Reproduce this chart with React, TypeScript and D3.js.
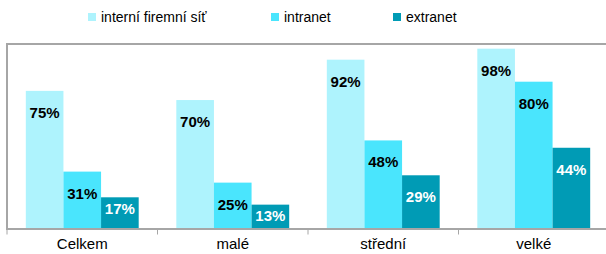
import React from 'react';
import * as d3 from 'd3';

const categories = ['Celkem', 'malé', 'střední', 'velké'];
const seriesNames = ['interní firemní síť', 'intranet', 'extranet'];
const interni = [75, 70, 92, 98];
const intranet = [31, 25, 48, 80];
const extranet = [17, 13, 29, 44];
const seriesColors = ['#aef3fd', '#4ae5fd', '#009bb5'];
const labelColors = ['#000', '#000', '#fff'];

const W = 606;
const H = 254;
const left = 7;
const right = 609;
const top = 44;
const bottom = 228.5;

export default function App() {
  const values = [interni, intranet, extranet];
  const x0 = d3.scaleBand().domain(categories).range([left, right]);
  const x1 = d3.scaleBand().domain(seriesNames).range([0, x0.bandwidth()]).paddingOuter(0.5);
  const y = d3.scaleLinear().domain([0, 100]).range([bottom, top + 1]);
  const font = 'Arial, "Liberation Sans", sans-serif';
  const legendX = [88, 271, 393];

  return (
    <svg width={W} height={H} style={{ position: 'absolute', left: 0, top: 0 }} fontFamily={font}>
      {/* legend */}
      {seriesNames.map((s, i) => (
        <g key={s}>
          <rect x={legendX[i]} y={13} width={8} height={8} fill={seriesColors[i]} />
          <text x={legendX[i] + 13} y={22} fontSize={14} fill="#000">{s}</text>
        </g>
      ))}
      {/* frame */}
      <path d={`M${left},${bottom} V${top} H${W}`} fill="none" stroke="#a6a6a6" strokeWidth={2} />
      {/* bars */}
      {categories.map((c, ci) => (
        <g key={c} transform={`translate(${x0(c)},0)`}>
          {seriesNames.map((s, si) => {
            const v = values[si][ci];
            const h = bottom - y(v);
            const off = h < 40 ? 11 : 21.5;
            return (
              <g key={s}>
                <rect x={x1(s)} y={y(v)} width={x1.bandwidth()} height={h} fill={seriesColors[si]} />
                <text x={(x1(s) ?? 0) + x1.bandwidth() / 2} y={y(v) + off + 5.5} textAnchor="middle"
                  fontSize={15} fontWeight="bold" fill={labelColors[si]}>{v}%</text>
              </g>
            );
          })}
        </g>
      ))}
      {/* x axis */}
      <line x1={left - 1} x2={W} y1={bottom + 0.5} y2={bottom + 0.5} stroke="#a6a6a6" strokeWidth={2} />
      {categories.map((c) => (
        <line key={c} x1={x0(c)} x2={x0(c)} y1={bottom} y2={bottom + 6} stroke="#a6a6a6" strokeWidth={1} />
      ))}
      {categories.map((c) => (
        <text key={c} x={(x0(c) ?? 0) + x0.bandwidth() / 2} y={249} textAnchor="middle" fontSize={15} fill="#000">{c}</text>
      ))}
    </svg>
  );
}
